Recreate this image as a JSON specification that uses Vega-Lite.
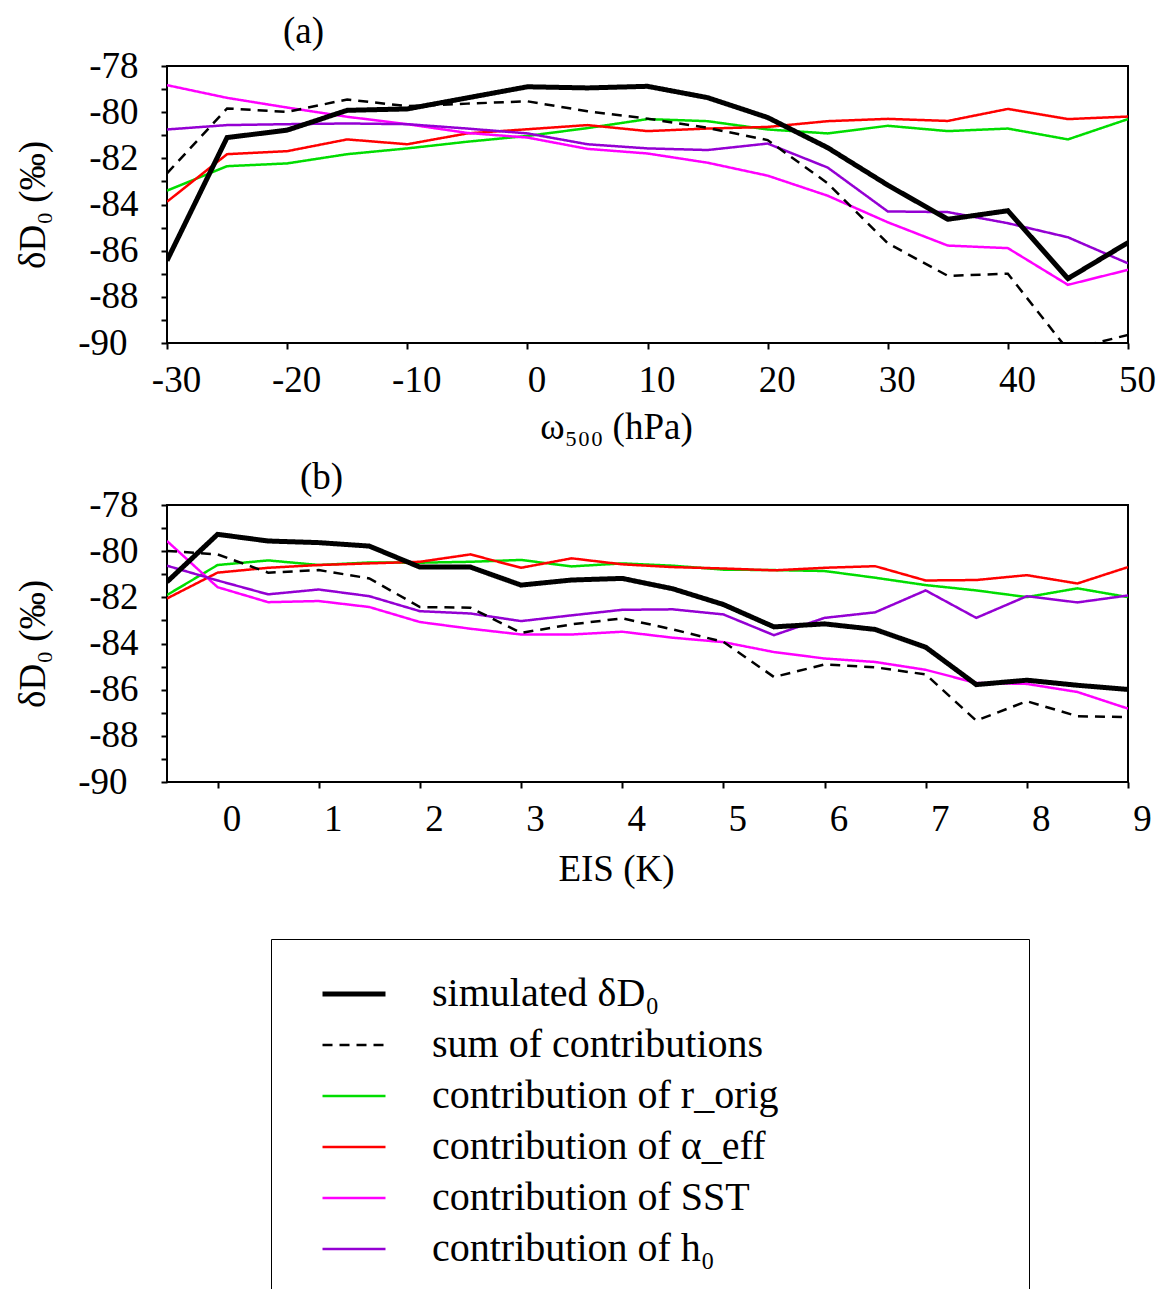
{
  "$schema": "https://vega.github.io/schema/vega-lite/v6.json",
  "padding": {"left": 13, "top": 12, "right": 0, "bottom": 0},
  "background": "white",
  "datasets": {
    "a": [
      {"x": -30, "sim": -86.43, "sum": -82.65, "r": -83.4, "a": -83.88, "sst": -78.83, "h0": -80.75},
      {"x": -25, "sim": -81.1, "sum": -79.84, "r": -82.34, "a": -81.82, "sst": -79.38, "h0": -80.56},
      {"x": -20, "sim": -80.78, "sum": -79.99, "r": -82.22, "a": -81.69, "sst": -79.8, "h0": -80.52},
      {"x": -15, "sim": -79.92, "sum": -79.45, "r": -81.82, "a": -81.18, "sst": -80.2, "h0": -80.49},
      {"x": -10, "sim": -79.86, "sum": -79.74, "r": -81.57, "a": -81.39, "sst": -80.52, "h0": -80.52},
      {"x": -5, "sim": -79.38, "sum": -79.63, "r": -81.28, "a": -80.92, "sst": -80.9, "h0": -80.71},
      {"x": 0, "sim": -78.9, "sum": -79.53, "r": -81.03, "a": -80.74, "sst": -81.1, "h0": -80.92},
      {"x": 5, "sim": -78.95, "sum": -79.96, "r": -80.69, "a": -80.56, "sst": -81.59, "h0": -81.39},
      {"x": 10, "sim": -78.88, "sum": -80.28, "r": -80.3, "a": -80.82, "sst": -81.79, "h0": -81.57},
      {"x": 15, "sim": -79.37, "sum": -80.68, "r": -80.39, "a": -80.71, "sst": -82.19, "h0": -81.64},
      {"x": 20, "sim": -80.23, "sum": -81.21, "r": -80.75, "a": -80.64, "sst": -82.75, "h0": -81.36},
      {"x": 25, "sim": -81.54, "sum": -83.08, "r": -80.92, "a": -80.39, "sst": -83.62, "h0": -82.4},
      {"x": 30, "sim": -83.16, "sum": -85.68, "r": -80.59, "a": -80.29, "sst": -84.77, "h0": -84.3},
      {"x": 35, "sim": -84.64, "sum": -87.09, "r": -80.82, "a": -80.38, "sst": -85.78, "h0": -84.33},
      {"x": 40, "sim": -84.27, "sum": -87.0, "r": -80.71, "a": -79.86, "sst": -85.89, "h0": -84.81},
      {"x": 45, "sim": -87.21, "sum": -90.3, "r": -81.18, "a": -80.3, "sst": -87.48, "h0": -85.42},
      {"x": 50, "sim": -85.65, "sum": -89.65, "r": -80.3, "a": -80.19, "sst": -86.83, "h0": -86.55}
    ],
    "b": [
      {"x": -0.5, "sim": -81.33, "sum": -79.99, "r": -81.9, "a": -82.05, "sst": -79.56, "h0": -80.63},
      {"x": 0, "sim": -79.27, "sum": -80.14, "r": -80.6, "a": -80.93, "sst": -81.56, "h0": -81.27},
      {"x": 0.5, "sim": -79.56, "sum": -80.93, "r": -80.4, "a": -80.72, "sst": -82.21, "h0": -81.87},
      {"x": 1, "sim": -79.63, "sum": -80.82, "r": -80.6, "a": -80.6, "sst": -82.16, "h0": -81.66},
      {"x": 1.5, "sim": -79.78, "sum": -81.18, "r": -80.49, "a": -80.53, "sst": -82.42, "h0": -81.95},
      {"x": 2, "sim": -80.69, "sum": -82.42, "r": -80.5, "a": -80.46, "sst": -83.07, "h0": -82.6},
      {"x": 2.5, "sim": -80.69, "sum": -82.45, "r": -80.46, "a": -80.14, "sst": -83.36, "h0": -82.7},
      {"x": 3, "sim": -81.47, "sum": -83.54, "r": -80.38, "a": -80.72, "sst": -83.61, "h0": -83.03},
      {"x": 3.5, "sim": -81.25, "sum": -83.17, "r": -80.66, "a": -80.31, "sst": -83.61, "h0": -82.78},
      {"x": 4, "sim": -81.18, "sum": -82.91, "r": -80.53, "a": -80.57, "sst": -83.49, "h0": -82.54},
      {"x": 4.5, "sim": -81.63, "sum": -83.39, "r": -80.63, "a": -80.69, "sst": -83.75, "h0": -82.52},
      {"x": 5, "sim": -82.31, "sum": -83.93, "r": -80.8, "a": -80.75, "sst": -83.94, "h0": -82.74},
      {"x": 5.5, "sim": -83.28, "sum": -85.45, "r": -80.82, "a": -80.83, "sst": -84.37, "h0": -83.64},
      {"x": 6, "sim": -83.15, "sum": -84.91, "r": -80.86, "a": -80.72, "sst": -84.65, "h0": -82.89},
      {"x": 6.5, "sim": -83.39, "sum": -85.03, "r": -81.15, "a": -80.65, "sst": -84.8, "h0": -82.65},
      {"x": 7, "sim": -84.16, "sum": -85.34, "r": -81.47, "a": -81.27, "sst": -85.14, "h0": -81.7},
      {"x": 7.5, "sim": -85.78, "sum": -87.34, "r": -81.7, "a": -81.25, "sst": -85.71, "h0": -82.89},
      {"x": 8, "sim": -85.59, "sum": -86.5, "r": -81.99, "a": -81.04, "sst": -85.75, "h0": -81.95},
      {"x": 8.5, "sim": -85.81, "sum": -87.15, "r": -81.61, "a": -81.4, "sst": -86.1, "h0": -82.22},
      {"x": 9, "sim": -85.99, "sum": -87.19, "r": -81.99, "a": -80.69, "sst": -86.82, "h0": -81.92}
    ]
  },
  "vconcat": [
    {
      "width": 961,
      "height": 277,
      "title": {"text": "(a)", "anchor": "start", "frame": "group", "dx": 116, "offset": -4},
      "data": {"name": "a"},
      "transform": [{"fold": ["r", "a", "sst", "h0", "sum", "sim"], "as": ["series", "v"]}],
      "mark": {"type": "line", "clip": true},
      "encoding": {
        "x": {
          "field": "x", "type": "quantitative",
          "scale": {"domain": [-30, 50], "nice": false, "zero": false},
          "axis": {"title": "ω₅₀₀ (hPa)", "values": [-30, -20, -10, 0, 10, 20, 30, 40, 50], "labelExpr": "'' + datum.value", "labelOffset": 9, "labelPadding": 13, "titlePadding": 11, "titleX": 449}
        },
        "y": {
          "field": "v", "type": "quantitative",
          "scale": {"domain": [-90, -78], "nice": false, "zero": false},
          "axis": {"title": "δD₀ (‰)", "titlePadding": 25, "values": [-90, -89, -88, -87, -86, -85, -84, -83, -82, -81, -80, -79, -78], "labelExpr": "datum.value % 2 == 0 ? '' + datum.value : ''", "labelPadding": {"condition": {"test": "datum.value == -90", "value": 34}, "value": 23}}
        },
        "color": {
          "field": "series", "type": "nominal",
          "scale": {"domain": ["sim", "sum", "r", "a", "sst", "h0"], "range": ["#000000", "#000000", "#00dd00", "#ff0000", "#ff00ff", "#9400d3"]},
          "legend": {"orient": "none", "legendX": 104, "legendY": 873, "title": "\u200b\u00a0\u00a0\u00a0\u00a0\u00a0\u00a0\u00a0\u00a0\u00a0\u00a0\u00a0\u00a0\u00a0\u00a0\u00a0\u00a0\u00a0\u00a0\u00a0\u00a0\u00a0\u00a0\u200b", "titleOrient": "right", "titlePadding": 0, "titleLimit": 1000, "labelExpr": "datum.value == 'sim' ? 'simulated δD₀' : datum.value == 'sum' ? 'sum of contributions' : datum.value == 'r' ? 'contribution of r_orig' : datum.value == 'a' ? 'contribution of α_eff' : datum.value == 'sst' ? 'contribution of SST' : 'contribution of h₀'"}
        },
        "strokeDash": {
          "field": "series", "type": "nominal",
          "scale": {"domain": ["sim", "sum", "r", "a", "sst", "h0"], "range": [[1, 0], [10, 7], [1, 0], [1, 0], [1, 0], [1, 0]]},
          "legend": {"orient": "none", "legendX": 104, "legendY": 873, "title": "\u200b\u00a0\u00a0\u00a0\u00a0\u00a0\u00a0\u00a0\u00a0\u00a0\u00a0\u00a0\u00a0\u00a0\u00a0\u00a0\u00a0\u00a0\u00a0\u00a0\u00a0\u00a0\u00a0\u200b", "titleOrient": "right", "titlePadding": 0, "titleLimit": 1000, "labelExpr": "datum.value == 'sim' ? 'simulated δD₀' : datum.value == 'sum' ? 'sum of contributions' : datum.value == 'r' ? 'contribution of r_orig' : datum.value == 'a' ? 'contribution of α_eff' : datum.value == 'sst' ? 'contribution of SST' : 'contribution of h₀'"}
        },
        "strokeWidth": {
          "field": "series", "type": "nominal",
          "scale": {"type": "ordinal", "domain": ["sim", "sum", "r", "a", "sst", "h0"], "range": [5, 2.5, 2.5, 2.5, 2.5, 2.5]},
          "legend": {"orient": "none", "legendX": 104, "legendY": 873, "title": "\u200b\u00a0\u00a0\u00a0\u00a0\u00a0\u00a0\u00a0\u00a0\u00a0\u00a0\u00a0\u00a0\u00a0\u00a0\u00a0\u00a0\u00a0\u00a0\u00a0\u00a0\u00a0\u00a0\u200b", "titleOrient": "right", "titlePadding": 0, "titleLimit": 1000, "labelExpr": "datum.value == 'sim' ? 'simulated δD₀' : datum.value == 'sum' ? 'sum of contributions' : datum.value == 'r' ? 'contribution of r_orig' : datum.value == 'a' ? 'contribution of α_eff' : datum.value == 'sst' ? 'contribution of SST' : 'contribution of h₀'"}
        }
      }
    },
    {
      "width": 961,
      "height": 277,
      "title": {"text": "(b)", "anchor": "start", "frame": "group", "dx": 133, "offset": -11},
      "data": {"name": "b"},
      "transform": [{"fold": ["r", "a", "sst", "h0", "sum", "sim"], "as": ["series", "v"]}],
      "mark": {"type": "line", "clip": true},
      "encoding": {
        "x": {
          "field": "x", "type": "quantitative",
          "scale": {"domain": [-0.5, 9], "nice": false, "zero": false},
          "axis": {"title": "EIS (K)", "values": [0, 1, 2, 3, 4, 5, 6, 7, 8, 9], "labelExpr": "'' + datum.value", "labelOffset": 14, "labelPadding": 13, "titlePadding": 14, "titleX": 449}
        },
        "y": {
          "field": "v", "type": "quantitative",
          "scale": {"domain": [-90, -78], "nice": false, "zero": false},
          "axis": {"title": "δD₀ (‰)", "titlePadding": 25, "values": [-90, -89, -88, -87, -86, -85, -84, -83, -82, -81, -80, -79, -78], "labelExpr": "datum.value % 2 == 0 ? '' + datum.value : ''", "labelPadding": {"condition": {"test": "datum.value == -90", "value": 34}, "value": 23}}
        },
        "color": {
          "field": "series", "type": "nominal",
          "scale": {"domain": ["sim", "sum", "r", "a", "sst", "h0"], "range": ["#000000", "#000000", "#00dd00", "#ff0000", "#ff00ff", "#9400d3"]}
        },
        "strokeDash": {
          "field": "series", "type": "nominal",
          "scale": {"domain": ["sim", "sum", "r", "a", "sst", "h0"], "range": [[1, 0], [10, 7], [1, 0], [1, 0], [1, 0], [1, 0]]}
        },
        "strokeWidth": {
          "field": "series", "type": "nominal",
          "scale": {"type": "ordinal", "domain": ["sim", "sum", "r", "a", "sst", "h0"], "range": [5, 2.5, 2.5, 2.5, 2.5, 2.5]}
        }
      }
    }
  ],
  "spacing": 12,
  "config": {
    "font": "Liberation Serif",
    "view": {"stroke": "#000000", "strokeWidth": 2},
    "title": {"font": "Liberation Serif", "fontSize": 37, "fontWeight": "normal", "color": "#000000"},
    "axis": {
      "domain": false,
      "grid": false,
      "ticks": true,
      "tickSize": 6,
      "tickWidth": 2,
      "tickColor": "#000000",
      "labelFont": "Liberation Serif",
      "labelFontSize": 37,
      "labelColor": "#000000",
      "labelFlush": false,
      "labelOverlap": false,
      "titleFont": "Liberation Serif",
      "titleFontSize": 37,
      "titleFontWeight": "normal",
      "titleColor": "#000000"
    },
    "legend": {
      "strokeColor": "#000000",
      "strokeWidth": 1,
      "padding": 35,
      "symbolType": "M-2,0H2",
      "symbolSize": 992,
      "symbolOffset": 28,
      "labelFont": "Liberation Serif",
      "labelFontSize": 40,
      "labelColor": "#000000",
      "labelOffset": 58,
      "labelLimit": 800,
      "rowPadding": 11,
      "titleFont": "Liberation Serif",
      "titleFontSize": 39
    }
  }
}
